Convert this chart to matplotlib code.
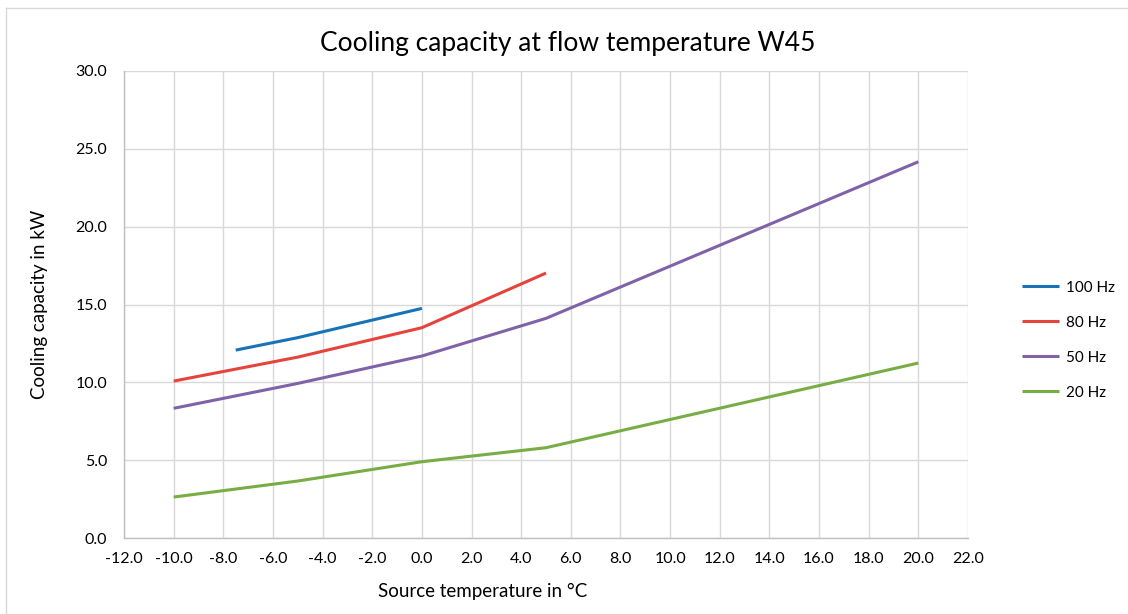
import matplotlib
matplotlib.use("Agg")
import matplotlib.pyplot as plt
from matplotlib.lines import Line2D
from matplotlib.ticker import MultipleLocator, FormatStrFormatter

plt.rcParams['font.family'] = ['Lato', 'DejaVu Sans']

# Source temperature (°C) and cooling capacity (kW) per compressor frequency
temp_100 = [-7.5, -5, 0]
cap_100 = [12.07, 12.87, 14.75]

temp_80 = [-10, -5, 0, 5]
cap_80 = [10.08, 11.62, 13.51, 17.02]

temp_50 = [-10, -5, 0, 5, 20]
cap_50 = [8.33, 9.93, 11.69, 14.11, 24.17]

temp_20 = [-10, -5, 0, 5, 20]
cap_20 = [2.63, 3.66, 4.90, 5.80, 11.24]

series_labels = ["100 Hz", "80 Hz", "50 Hz", "20 Hz"]
series_colors = ["#1872B8", "#E5443C", "#8062A8", "#78AD45"]

W, H = 1128, 614
fig = plt.figure(figsize=(W / 100, H / 100), dpi=100)
ax = fig.add_axes([124 / W, 1 - 538 / H, (968 - 124) / W, (538 - 71) / H])

series = [(temp_100, cap_100), (temp_80, cap_80), (temp_50, cap_50), (temp_20, cap_20)]
for (xs, ys), lab, col in zip(series, series_labels, series_colors):
    ax.plot(xs, ys, color=col, lw=2.2, label=lab, solid_capstyle='butt', zorder=3)

ax.set_xlim(-12, 22)
ax.set_ylim(0, 30)
ax.xaxis.set_major_locator(MultipleLocator(2))
ax.yaxis.set_major_locator(MultipleLocator(5))
ax.xaxis.set_major_formatter(FormatStrFormatter('%.1f'))
ax.yaxis.set_major_formatter(FormatStrFormatter('%.1f'))
ax.grid(True, color='#d9d9d9', lw=1.0, zorder=0)
ax.tick_params(axis='x', length=0, labelsize=11.5, colors='#000000', pad=10)
ax.tick_params(axis='y', length=0, labelsize=11.5, colors='#000000', pad=12)
for side in ['top', 'right']:
    ax.spines[side].set_visible(False)
for side in ['left', 'bottom']:
    ax.spines[side].set_color('#bfbfbf')
    ax.spines[side].set_linewidth(1.0)

# Chart title and axis titles
fig.text(568 / W, 1 - 43 / H, "Cooling capacity at flow temperature W45",
         fontsize=19, ha='center', va='center')
fig.text(483 / W, 1 - 591 / H, "Source temperature in °C",
         fontsize=13.5, ha='center', va='center')
fig.text(40 / W, 1 - 304 / H, "Cooling capacity in kW",
         fontsize=13.5, ha='center', va='center', rotation=90)

fig.legend(loc='center left', bbox_to_anchor=(0.8936, 0.446), frameon=False,
           fontsize=11, handlelength=2.42, handletextpad=0.46, labelspacing=1.38)

# Chart-area frame (top and left edges)
frame_color = '#d9d9d9'
fig.add_artist(Line2D([6 / W, 1.0], [1 - 8 / H, 1 - 8 / H], transform=fig.transFigure,
                      color=frame_color, lw=1.0))
fig.add_artist(Line2D([6 / W, 6 / W], [0.0, 1 - 8 / H], transform=fig.transFigure,
                      color=frame_color, lw=1.0))

fig.savefig("out.png", dpi=100)
